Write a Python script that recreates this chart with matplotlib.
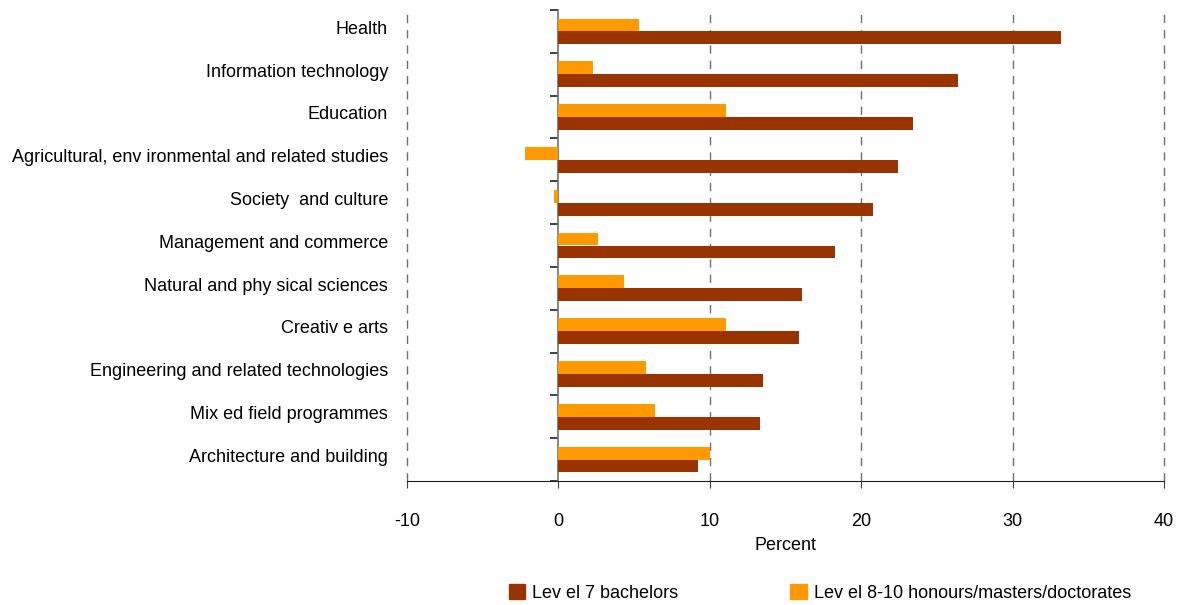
import matplotlib.pyplot as plt
from matplotlib.patches import Patch
from matplotlib.transforms import blended_transform_factory

plt.rcParams["font.family"] = ["Liberation Sans", "DejaVu Sans"]
plt.rcParams["axes.unicode_minus"] = False

campos = [
    "Health",
    "Information technology",
    "Education",
    "Agricultural, env ironmental and related studies",
    "Society  and culture",
    "Management and commerce",
    "Natural and phy sical sciences",
    "Creativ e arts",
    "Engineering and related technologies",
    "Mix ed field programmes",
    "Architecture and building",
]
bachelors = [33.2, 26.4, 23.4, 22.4, 20.8, 18.3, 16.1, 15.9, 13.5, 13.3, 9.2]
posgrado = [5.3, 2.3, 11.1, -2.2, -0.3, 2.6, 4.3, 11.1, 5.8, 6.4, 10.0]

color_bach = "#993300"
color_pos = "#FF9900"

fig = plt.figure(figsize=(11.84, 6.05), dpi=100)
ax = fig.add_axes([407 / 1184, 1 - 481 / 605, 757 / 1184, 471 / 605])

y = list(range(len(campos)))
alto = 0.3
ax.barh([i + alto / 2 for i in y], bachelors, height=alto, color=color_bach, zorder=3)
ax.barh([i - alto / 2 for i in y], posgrado, height=alto, color=color_pos, zorder=3)

ax.set_xlim(-10, 40)
ax.set_ylim(len(campos) - 0.5, -0.5)
ax.set_xticks([-10, 0, 10, 20, 30, 40])
ax.tick_params(axis="x", direction="out", length=5, pad=18, labelsize=13, color="#404040")
ax.set_xlabel("Percent", fontsize=13, labelpad=5)

# lineas de grilla verticales punteadas
for xv in [-10, 10, 20, 30, 40]:
    ax.axvline(xv, color="#707070", linestyle=(0, (6, 5)), linewidth=1, zorder=1, clip_on=False)

for lado in ["left", "right", "top"]:
    ax.spines[lado].set_visible(False)
ax.spines["bottom"].set_color("#202020")

# etiquetas de categorias a la izquierda
ax.set_yticks([])
trans = blended_transform_factory(ax.transAxes, ax.transData)
for i, nombre in enumerate(campos):
    ax.text(-0.025, i - 0.05, nombre, transform=trans, ha="right", va="center", fontsize=13)

# eje vertical en cero con marcas entre categorias
eje = ax.secondary_yaxis(0.2)
eje.set_yticks([i - 0.5 for i in range(len(campos) + 1)])
eje.set_yticklabels([])
eje.tick_params(direction="out", length=6, width=1.2, color="#202020")
eje.spines["left"].set_color("#707070")
eje.spines["left"].set_linewidth(1.2)

handles = [Patch(color=color_bach), Patch(color=color_pos)]
fig.legend(handles, ["Lev el 7 bachelors", "Lev el 8-10 honours/masters/doctorates"],
           loc="center", bbox_to_anchor=(820 / 1184, 1 - 593 / 605), ncol=2,
           frameon=False, fontsize=13, handlelength=0.9, handleheight=0.9,
           handletextpad=0.4, columnspacing=6.2)

fig.savefig("out.png", dpi=100)
